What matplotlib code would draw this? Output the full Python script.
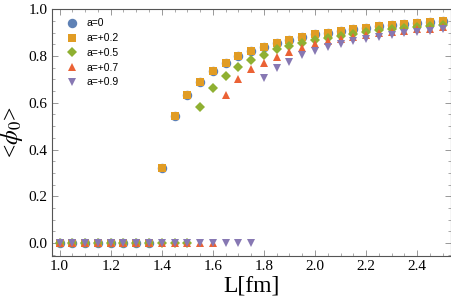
import matplotlib
matplotlib.use("Agg")
import matplotlib.pyplot as plt
from matplotlib.ticker import MultipleLocator

# L values (fm)
L = [1.00, 1.05, 1.10, 1.15, 1.20, 1.25, 1.30, 1.35, 1.40, 1.45, 1.50,
     1.55, 1.60, 1.65, 1.70, 1.75, 1.80, 1.85, 1.90, 1.95, 2.00, 2.05,
     2.10, 2.15, 2.20, 2.25, 2.30, 2.35, 2.40, 2.45, 2.50]

phi_a00 = [0, 0, 0, 0, 0, 0, 0, 0,
           0.320, 0.544, 0.633, 0.689, 0.735, 0.769, 0.798, 0.819, 0.839,
           0.856, 0.870, 0.882, 0.892, 0.900, 0.907, 0.915, 0.920, 0.927,
           0.932, 0.936, 0.940, 0.944, 0.949]
phi_a02 = [0, 0, 0, 0, 0, 0, 0, 0,
           0.320, 0.544, 0.633, 0.689, 0.735, 0.769, 0.798, 0.819, 0.839,
           0.856, 0.870, 0.882, 0.892, 0.900, 0.907, 0.915, 0.920, 0.927,
           0.932, 0.936, 0.940, 0.944, 0.949]
phi_a05 = [0, 0, 0, 0, 0, 0, 0, 0, 0, 0, 0,
           0.580, 0.661, 0.714, 0.753, 0.782, 0.806, 0.828, 0.843, 0.856,
           0.868, 0.877, 0.886, 0.895, 0.903, 0.909, 0.915, 0.919, 0.924,
           0.929, 0.933]
phi_a07 = [0, 0, 0, 0, 0, 0, 0, 0, 0, 0, 0, 0, 0,
           0.635, 0.700, 0.742, 0.770, 0.796, 0.818, 0.835, 0.849, 0.862,
           0.872, 0.881, 0.889, 0.896, 0.902, 0.907, 0.913, 0.917, 0.922]
phi_a09 = [0, 0, 0, 0, 0, 0, 0, 0, 0, 0, 0, 0, 0, 0, 0, 0,
           0.704, 0.747, 0.775, 0.802, 0.822, 0.836, 0.849, 0.862, 0.873,
           0.882, 0.890, 0.897, 0.903, 0.907, 0.913]

labels = ["a=0", "a=+0.2", "a=+0.5", "a=+0.7", "a=+0.9"]

plt.rcParams["font.family"] = "serif"
plt.rcParams["font.serif"] = ["Liberation Serif", "DejaVu Serif"]
plt.rcParams["mathtext.fontset"] = "stix"

fig = plt.figure(figsize=(4.52, 3.04), dpi=100)
ax = fig.add_axes([0.115, 0.158, 0.883, 0.812])

series = [
    (phi_a00, "o", "#5E81B5", 6.8),
    (phi_a02, "s", "#E19C24", 6.3),
    (phi_a05, "D", "#8FB032", 4.8),
    (phi_a07, "^", "#EB6235", 6.0),
    (phi_a09, "v", "#8778B3", 6.0),
]
for (vals, mk, col, ms), lab in zip(series, labels):
    ax.plot(L, vals, linestyle="none", marker=mk, color=col,
            markersize=ms, markeredgewidth=0, label=lab)

ax.set_xlim(0.97, 2.533)
ax.set_ylim(-0.055, 1.0)
ax.xaxis.set_major_locator(MultipleLocator(0.2))
ax.xaxis.set_minor_locator(MultipleLocator(0.05))
ax.yaxis.set_major_locator(MultipleLocator(0.2))
ax.yaxis.set_minor_locator(MultipleLocator(0.05))
ax.tick_params(which="both", direction="in", top=True, right=True,
               colors="#888888", labelcolor="black", labelsize=11, pad=3)
ax.tick_params(which="major", length=4, width=0.6)
ax.tick_params(which="minor", length=2, width=0.5)
for sp in ax.spines.values():
    sp.set_color("#555555")
    sp.set_linewidth(0.8)

ax.set_xlabel("L[fm]", fontsize=17, labelpad=2)
ax.set_ylabel(r"<$\phi_0$>", fontsize=17, labelpad=3)

ax.legend(loc="upper left", frameon=False, handletextpad=0.4,
          labelspacing=0.45, borderaxespad=0.5,
          prop={"family": "Liberation Sans", "size": 7.5})

fig.savefig("out.png", dpi=100)
